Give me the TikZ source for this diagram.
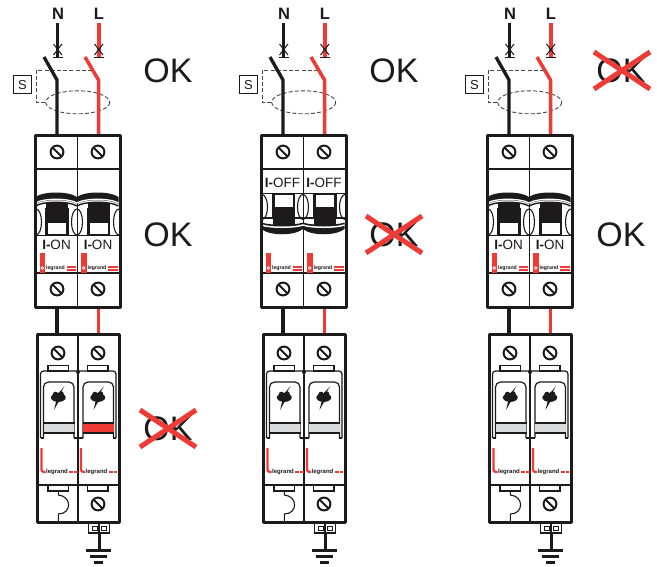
\documentclass[tikz,border=0pt]{standalone}
\usepackage{fontspec}
\setmainfont{Liberation Sans}
\definecolor{lr}{HTML}{EF3B36}
\definecolor{lk}{HTML}{1C1A1B}
\definecolor{lg}{HTML}{D9DADB}
\tikzset{
 wirek/.style={line width=3.3pt,draw=lk},
 wirer/.style={line width=3.5pt,draw=lr},
 frm/.style={line width=3pt,draw=lk,line join=round},
 thn/.style={line width=1.4pt,draw=lk},
 dsh/.style={line width=.9pt,draw=lk!80,dash pattern=on 4pt off 2.2pt},
 oktxt/.style={font=\fontsize{34}{34}\selectfont,text=lk,inner sep=0pt},
 crossline/.style={line width=5pt,draw=lr},
 lbl/.style={font=\fontsize{16.5}{16.5}\selectfont\bfseries,text=lk,inner sep=0pt},
 sw/.style={font=\fontsize{13.5}{13.5}\selectfont,text=lk,inner sep=0pt},
 brand/.style={font=\fontsize{5.2}{6}\selectfont\bfseries,text=lk,inner sep=0pt},
 brandb/.style={font=\fontsize{6}{6}\selectfont\bfseries,text=lk,inner sep=0pt},
}
\newcommand{\myscrew}[2]{%
 \draw[line width=2pt,draw=lk,fill=white] (#1,#2) circle (6.4);
 \draw[line width=2pt,draw=lk] (#1-4.6,#2-4.6) -- (#1+4.6,#2+4.6);}
\newcommand{\polelegrand}[1]{%
 \fill[lr] (#1+4,253) rectangle (#1+9.5,272.5);
 \fill[white] (#1+6.7,268) circle (1.9);
 \fill[lr] (#1+6.7,268) circle (.7);
 \node[brand] at (#1+20,268.5) {legrand};
 \draw[lr,line width=1.2pt] (#1+31,267) -- (#1+40.5,267) (#1+31,270) -- (#1+40.5,270);}
\newcommand{\poleon}[2]{%
 \begin{scope}[shift={(#1,0)}]
 \fill[lk] (0,197) .. controls (8,191) and (33,191) .. (41.5,197) -- (41.5,204) .. controls (33,199) and (8,199) .. (0,204) -- cycle;
 \draw[white,line width=1.3pt] (0,203) .. controls (8,198) and (33,198) .. (41.5,203);
 \draw[thn] (0,206) .. controls (8,201) and (33,201) .. (41.5,206);
 \fill[lk] (10.5,203) rectangle (32.5,223);
 \draw[line width=1.1pt,draw=lk,fill=white] (12,222) rectangle (31.5,235);
 \draw[line width=1.1pt,draw=lk] (10.5,208) -- (10.5,235) (32.5,208) -- (32.5,235);
 \draw[line width=1.5pt,draw=lk] (0,235.5) -- (41.5,235.5);
 \node[sw] (#2t) at (21,245) {\textbf{I-}ON};
 \polelegrand{0}
 \end{scope}}
\newcommand{\poleoff}[2]{%
 \begin{scope}[shift={(#1,0)}]
 \node[sw] (#2t) at (21,183) {\textbf{I-}OFF};
 \draw[line width=1.3pt,draw=lk] (0,193.5) -- (41.5,193.5);
 \fill[lk] (11,207) rectangle (33,225);
 \draw[line width=1.1pt,draw=lk,fill=white] (12.5,194) rectangle (32,208);
 \draw[line width=1.1pt,draw=lk] (11,194) -- (11,218) (33,194) -- (33,218);
 \draw[line width=1.3pt,draw=lk] (0,218) -- (41.5,218);
 \fill[lk] (0,222.5) .. controls (8,225.5) and (33,225.5) .. (41.5,222.5) -- (41.5,229) .. controls (33,236) and (8,236) .. (0,229) -- cycle;
 \draw[white,line width=1.5pt] (0,225) .. controls (8,228) and (33,228) .. (41.5,225);
 \polelegrand{0}
 \end{scope}}
\newcommand{\feeder}[2]{%
 \begin{scope}[shift={(#1,0)}]
 \node[lbl] (#2n) at (58,14) {N};
 \node[lbl] (#2l) at (99,14) {L};
 \coordinate (#2a) at (57.5,23);
 \coordinate (#2b) at (99,23);
 \draw[wirek] (#2a) -- (57.5,57);
 \draw[wirer] (#2b) -- (99,57);
 \draw[line width=1pt,draw=lk] (53.5,44) -- (62,55) (62,44) -- (53.5,55);
 \draw[line width=1pt,draw=lk] (94.5,44) -- (103,55) (103,44) -- (94.5,55);
 \draw[line width=1.5pt,draw=lk] (53,57.5) -- (63,57.5) (94,57.5) -- (103.5,57.5);
 \draw[dsh] (92,70) -- (36,70) -- (36,102) -- (46,102);
 \draw[dsh] (77.7,102.3) ellipse (32 and 11.5);
 \node[draw=lk,line width=1pt,minimum width=18pt,minimum height=18.5pt,inner sep=0pt,font=\fontsize{13}{13}\selectfont,text=lk] (#2s) at (22.5,84.7) {S};
 \draw[wirek,line join=round] (44,57) -- (57,80) -- (57,135);
 \draw[wirer,line join=round] (85,57) -- (98.5,80) -- (98.5,135);
 \end{scope}}
\newcommand{\breakerframe}{%
 \fill[white] (35,135) rectangle (120,307);
 \draw[thn,line width=1.8pt] (77.5,135) -- (77.5,307);
 \draw[thn,line width=1.8pt] (35,169) -- (120,169) (35,273) -- (120,273);
 \myscrew{57}{152}\myscrew{98}{152}\myscrew{57}{289}\myscrew{98}{289}}
\newcommand{\togglearcs}[2]{%
 \begin{scope}
 \clip (35,135) rectangle (120,307);
 \foreach \ax in {36,77,119} {\draw[line width=1.1pt,draw=lk] (\ax,#1) ellipse (5.5 and #2);}
 \end{scope}}
\newcommand{\spdpole}[2]{%
 \begin{scope}[shift={(#1,0)}]
 \draw[line width=1.2pt,draw=lk,rounded corners=5] (6,438) -- (6,382) -- (36.5,382) -- (36.5,438);
 \fill[#2] (6,423) rectangle (36.5,433);
 \draw[line width=1.2pt,draw=lk] (5.5,423) -- (37,423) (5.5,433) -- (37,433);
 \fill[lk] (20.8,397.5) ellipse (7.4 and 4.4) (18,394.5) circle (2.8) (23.5,394) circle (2.8);
 \fill[lk] (27,386) -- (22.5,394) -- (25,400) -- (21,402) -- (16.5,410) -- (18.5,402) -- (19,396) -- cycle;
 \node[brandb] at (19.5,472) {legrand};
 \draw[lr,line width=2.3pt,rounded corners=2.5] (4,448) -- (4,472) -- (8,472);
 \draw[lr,line width=2.3pt] (31.5,472) -- (35.5,472) (36.5,472) -- (40,472);
 \draw[line width=1.1pt,draw=lk,fill=white] (10.5,365.5) rectangle (31,371);
 \draw[line width=1.1pt,draw=lk,fill=white] (10.5,485) rectangle (31,491);
 \end{scope}}
\newcommand{\spd}[2]{%
 \fill[white] (37.5,334) rectangle (119,522);
 \draw[line width=1.2pt,draw=lk,rounded corners=3] (40.5,438) -- (40.5,371) -- (116,371) -- (116,438);
 \draw[line width=1.2pt,draw=lk] (40.5,438) -- (44,438) (74,438) -- (83,438) (113,438) -- (116,438);
 \draw[thn,line width=1.3pt] (78,334) -- (78,522);
 \fill[lk] (78,372) circle (2);
 \draw[thn,line width=1.3pt] (37.5,485) -- (119,485);
 \myscrew{58}{353}\myscrew{98}{353}
 \spdpole{37.5}{#1}
 \spdpole{77}{#2}
 \draw[line width=1.1pt,draw=lk] (58.3,491) -- (58.3,495) .. controls (72,496) and (72,514) .. (58.3,514) -- (58.3,522);
 \myscrew{98}{504}
 \draw[frm] (37.5,334) rectangle (119,522);}
\newcommand{\earth}[1]{%
 \draw[line width=1.2pt,draw=lk,fill=white] (88.5,523) rectangle (109.5,533);
 \draw[line width=1pt,draw=lk] (92,530) -- (92,526) -- (97,526) -- (97,530) -- cycle (101,530) -- (101,526) -- (106,526) -- (106,530) -- cycle;
 \coordinate (#1g) at (99,549);
 \draw[line width=1.2pt,draw=lk] (99,524) -- (99,533);
 \draw[line width=3pt,draw=lk] (99,533) -- (#1g);
 \draw[line width=2.8pt,draw=lk] (86,550.5) -- (110.5,550.5) (90,556.5) -- (107,556.5) (94,562.5) -- (103,562.5);}
\newcommand{\crossmark}[2]{%
 \draw[crossline] (#1-28,#2-19) -- (#1+28,#2+18);
 \draw[crossline] (#1-28,#2+18) -- (#1+28,#2-19);}
\newcommand{\panel}[2]{%
 \begin{scope}[shift={(#1,0)}]
 \feeder{0}{#2}
 \draw[wirek] (57,307) -- (57,334);
 \draw[wirer] (98.5,307) -- (98.5,334);
 \end{scope}}
\begin{document}
\begin{tikzpicture}[x=1pt,y=-1pt]
\useasboundingbox (0,0) rectangle (657,566);
\fill[white] (0,0) rectangle (657,566);
\panel{0}{a}
\begin{scope}
 \breakerframe \togglearcs{222}{13} \poleon{35.5}{a1}\poleon{77}{a2}
 \draw[frm] (35,135) rectangle (120,307);
 \spd{lg}{lr} \earth{a}
\end{scope}
\panel{226}{b}
\begin{scope}[shift={(226,0)}]
 \breakerframe \togglearcs{207}{12.5} \poleoff{35.5}{b1}\poleoff{77}{b2}
 \draw[frm] (35,135) rectangle (120,307);
 \spd{lg}{lg} \earth{b}
\end{scope}
\panel{452}{c}
\begin{scope}[shift={(452,0)}]
 \breakerframe \togglearcs{222}{13} \poleon{35.5}{c1}\poleon{77}{c2}
 \draw[frm] (35,135) rectangle (120,307);
 \spd{lg}{lg} \earth{c}
\end{scope}
\node[oktxt] (o1) at (168,71) {OK};
\node[oktxt] (o2) at (394,71) {OK};
\node[oktxt] (o3) at (621,71) {OK};
\node[oktxt] (o4) at (168,235) {OK};
\node[oktxt] (o5) at (394,235) {OK};
\node[oktxt] (o6) at (621,235) {OK};
\node[oktxt] (o7) at (168,429) {OK};
\crossmark{622}{71}
\crossmark{394}{235}
\crossmark{168}{429}
\end{tikzpicture}
\end{document}
